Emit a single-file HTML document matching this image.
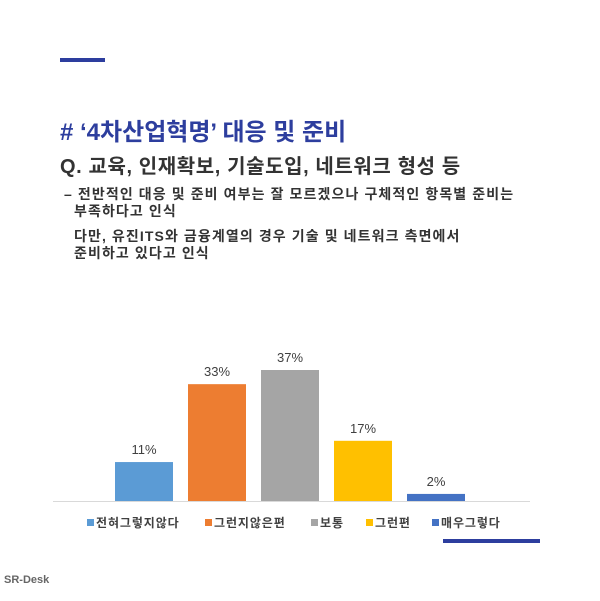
<!DOCTYPE html>
<html><head><meta charset="utf-8"><style>
body{margin:0;width:600px;height:601px;background:#fff;position:relative;overflow:hidden;font-family:"Liberation Sans","Noto Sans CJK KR",sans-serif}
.a{position:absolute;white-space:nowrap}
</style></head><body>
<div class="a" style="left:60px;top:58px;width:45px;height:4px;background:#2d3e9e"></div>
<div class="a" style="left:60px;top:112px;font-size:24px;font-weight:bold;color:#2d3e9e">#&nbsp;‘4차산업혁명’ 대응 및 준비</div>
<div class="a" style="left:60px;top:150px;font-size:20px;font-weight:bold;color:#333;letter-spacing:0.6px">Q. 교육, 인재확보, 기술도입, 네트워크 형성 등</div>
<div class="a" style="left:64px;top:186px;font-size:14px;font-weight:bold;color:#333;line-height:17px;letter-spacing:1.1px">– 전반적인 대응 및 준비 여부는 잘 모르겠으나 구체적인 항목별 준비는<br>&nbsp;&nbsp;부족하다고 인식<div style="height:8px"></div>&nbsp;&nbsp;다만, 유진ITS와 금융계열의 경우 기술 및 네트워크 측면에서<br>&nbsp;&nbsp;준비하고 있다고 인식</div>
<svg class="a" style="left:0;top:0" width="600" height="601" id="chart"></svg>
<div class="a" style="left:443px;top:539px;width:97px;height:4px;background:#2d3e9e"></div>
<div class="a" style="left:4px;top:574px;font-size:11px;font-weight:bold;color:#666">SR-Desk</div>
<script>
const categories=["전혀그렇지않다","그런지않은편","보통","그런편","매우그렇다"];
const values=[11,33,37,17,2];
const colors=["#5b9bd5","#ed7d31","#a5a5a5","#ffc000","#4472c4"];
const legendX=[87,205,311,366,432];
const svg=document.getElementById('chart');
const NS="http://www.w3.org/2000/svg";
const base=501, scale=131/37, x0=115, step=73, bw=58;
const y=v=>base-v*scale;
function mk(t,a){const e=document.createElementNS(NS,t);for(const k in a)e.setAttribute(k,a[k]);svg.appendChild(e);return e;}
const ax=mk('line',{x1:53,x2:530,y1:base+0.5,y2:base+0.5,stroke:'#d9d9d9','stroke-width':1});


values.forEach((v,i)=>{
 const x=x0+i*step;
 const r=mk('rect',{x:x,y:y(v),width:bw,height:base-y(v),fill:colors[i]});
 
 
 const t=mk('text',{x:x+bw/2,y:y(v)-8,'text-anchor':'middle','font-size':'13','fill':'#404040','font-family':'Liberation Sans, sans-serif'});
 t.textContent=v+'%';
 
 
 const s=mk('rect',{x:legendX[i],y:519,width:7,height:7,fill:colors[i]});
 
 
 const l=mk('text',{x:legendX[i]+9,y:527,'font-size':'12','font-weight':'bold','fill':'#404040','letter-spacing':'0.9','font-family':'Liberation Sans, Noto Sans CJK KR, sans-serif'});
 l.textContent=categories[i];
 
 
});
</script>
</body></html>
